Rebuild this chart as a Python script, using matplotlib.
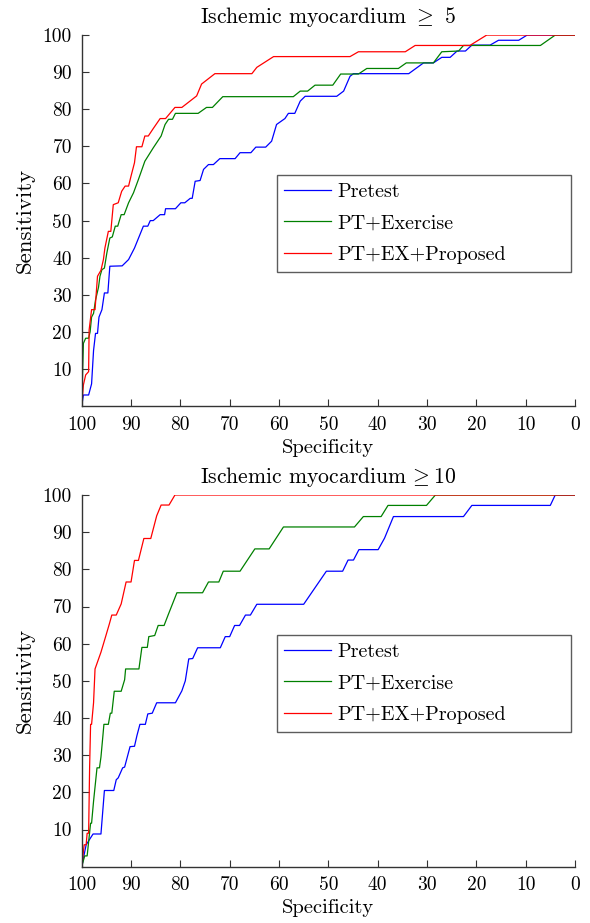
import matplotlib
matplotlib.use("Agg")
import matplotlib.pyplot as plt

plt.rcParams['font.family'] = ['cmr10', 'DejaVu Serif']
plt.rcParams['mathtext.fontset'] = 'cm'
plt.rcParams['axes.formatter.use_mathtext'] = True

labels = ["Pretest", "PT+Exercise", "PT+EX+Proposed"]
colors = ["#0000ff", "#008000", "#ff0000"]
titles = [r"Ischemic myocardium $\geq$ 5", r"Ischemic myocardium$\,\geq$10"]
xticks = [100, 90, 80, 70, 60, 50, 40, 30, 20, 10, 0]
yticks = [10, 20, 30, 40, 50, 60, 70, 80, 90, 100]

# ---- Panel 1: Ischemic myocardium >= 5 ----
p1_pre_spec = [100, 99.66, 98.6, 98, 97.6, 97.2, 96.8, 96.5, 95.9, 95.4, 94.7, 94.3, 91.8, 90.5, 89.3, 87.5,
               86.6, 86.1, 85.5, 84.1, 83.2, 83, 81, 79.9, 79.1, 78, 77.6, 77, 76, 75.3, 74.3, 73.3, 72,
               68.9, 67.9, 65.7, 64.7, 62.7, 61.5, 60.5, 58.8, 58.1, 56.8, 55.7, 54.7, 48.3, 46.9, 45.6,
               44.9, 33.7, 30.7, 28.7, 27, 25.3, 23.9, 22.2, 20.9, 17.2, 15.5, 11.4, 9.7, 0]
p1_pre_sens = [0, 3, 3, 6, 15, 19.6, 19.6, 24, 26, 30.5, 30.5, 37.7, 37.8, 39.5, 42.6, 48.5,
               48.5, 50, 50, 51.6, 51.6, 53.2, 53.2, 54.8, 54.8, 56, 56, 60.6, 60.8, 63.8, 65.1, 65.1, 66.7,
               66.7, 68.3, 68.3, 69.8, 69.8, 71.4, 75.9, 77.5, 78.9, 78.9, 82.2, 83.5, 83.5, 84.9, 88.9,
               89.6, 89.6, 92.5, 92.5, 94, 94, 95.7, 95.7, 97.3, 97.3, 98.6, 98.6, 100, 100]

p1_pt_spec = [100, 99.66, 99.2, 98.6, 98.3, 98, 97.6, 97.2, 96.6, 96.3, 95.9, 95.4, 94.9, 94.3, 93.8, 93.2,
              92.7, 92, 91.4, 90.5, 89.5, 88.5, 87.2, 85.5, 83.9, 83.1, 82.4, 81.6, 81, 76.4, 74.7, 73.5,
              71.4, 57.1, 55.7, 54.2, 52.7, 49.1, 47.5, 43.9, 42.2, 35.8, 34.2, 28.7, 27, 23.6, 22.6, 7, 4, 0]
p1_pt_sens = [0, 16.9, 18.3, 18.3, 20, 24, 25, 28.6, 32, 35, 36.8, 37.2, 41.3, 45.3, 45.6, 48.5,
              48.5, 51.6, 51.6, 54.8, 57.5, 61.1, 66, 69.6, 72.8, 75.9, 77.3, 77.3, 78.9, 78.9, 80.5, 80.5,
              83.4, 83.4, 84.9, 84.9, 86.5, 86.5, 89.5, 89.5, 91, 91, 92.5, 92.5, 95.5, 95.7, 97.2, 97.2, 100, 100]

p1_pr_spec = [100, 99.66, 99.2, 98.6, 98.5, 98, 97.3, 96.8, 96.1, 95.6, 95.3, 94.6, 94.1, 93.6, 92.6, 91.9,
              91.2, 90.5, 90, 89.3, 88.9, 87.8, 87.2, 86.5, 85.5, 84.1, 83, 81.1, 79.7, 76.7, 75.7, 73,
              65.5, 64.5, 61.1, 45.6, 43.9, 34.4, 32.4, 21.3, 17.9, 0]
p1_pr_sens = [0, 5.7, 8.4, 9.3, 20.5, 26, 26, 35, 36.6, 39.5, 42.6, 47.1, 47.1, 54.3, 54.8, 57.9,
              59.3, 59.3, 62, 65.6, 69.9, 69.9, 72.8, 72.8, 74.8, 77.5, 77.5, 80.5, 80.5, 83.6, 86.8, 89.6,
              89.6, 91.3, 94.2, 94.2, 95.5, 95.5, 97.2, 97.2, 100, 100]

# ---- Panel 2: Ischemic myocardium >= 10 ----
p2_pre_spec = [100, 99.1, 97.7, 96.1, 95.4, 93.5, 93, 92.6, 91.7, 91.3, 90.2, 89.3, 88.8, 88.2, 87.1, 86.6,
               85.7, 84.8, 81, 79.7, 79, 78.3, 77.5, 76.5, 71.9, 70.9, 70, 69, 68, 66.8, 65.8, 64.5, 55,
               50.4, 47.1, 46, 44.9, 43.8, 39.9, 38.6, 36.8, 22.6, 20.9, 5, 4, 0]
p2_pre_sens = [0, 5.9, 8.8, 8.8, 20.5, 20.5, 23.4, 23.9, 26.6, 26.8, 32.3, 32.4, 35.3, 38.3, 38.3, 41.1,
               41.3, 44.1, 44.1, 47.3, 50, 55.9, 56, 58.9, 58.9, 61.9, 61.9, 64.9, 64.9, 67.7, 67.7, 70.6, 70.6,
               79.5, 79.5, 82.5, 82.5, 85.3, 85.3, 88.4, 94.2, 94.2, 97.2, 97.2, 100, 100]

p2_pt_spec = [100, 99.4, 98.9, 98.2, 98, 97.6, 96.9, 96.4, 96.1, 95.7, 95.5, 94.6, 94.2, 93.9, 93.4, 92,
              91.3, 91.1, 88.4, 87.8, 86.7, 86.4, 85.2, 84.5, 83.3, 82.4, 80.7, 75.5, 74.3, 72.2, 71.3, 67.9,
              64.9, 62, 59.1, 44.7, 42.9, 39.3, 37.9, 30.1, 28.3, 0]
p2_pt_sens = [0, 2.9, 2.9, 11.7, 11.7, 17.6, 26.6, 26.6, 29.5, 35.3, 38.3, 38.3, 41.3, 41.3, 47.2, 47.2,
              50.3, 53.2, 53.2, 59, 59, 61.9, 62.2, 64.9, 64.9, 68, 73.7, 73.7, 76.6, 76.6, 79.5, 79.5,
              85.5, 85.5, 91.4, 91.4, 94.2, 94.2, 97.2, 97.2, 100, 100]

p2_pr_spec = [100, 99.5, 99.1, 98.9, 98.6, 98.4, 98.2, 98, 97.6, 97.3, 96.1, 95.2, 94.4, 93.9, 93, 92,
              91, 90, 89.3, 88.5, 87.4, 86, 84.8, 83.9, 82.3, 81.1, 0]
p2_pr_sens = [0, 5.9, 5.9, 9, 9, 26.6, 38.3, 38.3, 44.1, 53.2, 57.7, 61.7, 65.3, 67.7, 67.7, 70.7,
              76.6, 76.6, 82.4, 82.4, 88.3, 88.3, 94.4, 97.3, 97.3, 100, 100]

panels = [
    [(p1_pre_spec, p1_pre_sens), (p1_pt_spec, p1_pt_sens), (p1_pr_spec, p1_pr_sens)],
    [(p2_pre_spec, p2_pre_sens), (p2_pt_spec, p2_pt_sens), (p2_pr_spec, p2_pr_sens)],
]

fig = plt.figure(figsize=(5.9, 9.23), dpi=100)
axes_rects = [[0.1385, 0.560, 0.836, 0.402], [0.1385, 0.061, 0.836, 0.4027]]
fs = 14
spine_col = "#333333"

for rect, curves, title in zip(axes_rects, panels, titles):
    ax = fig.add_axes(rect)
    for (sx, sy), lab, col in zip(curves, labels, colors):
        ax.plot(sx, sy, color=col, lw=0.9, label=lab)
    ax.set_xlim(100, 0)
    ax.set_ylim(0, 100)
    ax.set_xticks(xticks)
    ax.set_yticks(yticks)
    ax.set_xticklabels([str(t) for t in xticks])
    ax.set_yticklabels([str(t) for t in yticks])
    for s in ["top", "right"]:
        ax.spines[s].set_visible(False)
    for s in ["left", "bottom"]:
        ax.spines[s].set_color(spine_col)
        ax.spines[s].set_linewidth(1.0)
    ax.tick_params(direction="in", length=5, width=0.8, color=spine_col, labelsize=fs)
    ax.tick_params(axis="x", pad=7)
    ax.tick_params(axis="y", pad=7)
    ax.set_xlabel("Specificity", fontsize=fs + 0.8, labelpad=3.5)
    ax.set_ylabel("Sensitivity", fontsize=16.5, labelpad=6)
    ax.set_title(title, fontsize=15.6, pad=8.5)
    leg = ax.legend(loc="upper left", bbox_to_anchor=(0.395, 0.623, 0.597, 0),
                    mode="expand", borderaxespad=0, fontsize=14.5, fancybox=False,
                    handlelength=2.3, labelspacing=0.67, borderpad=0.38, handletextpad=0.35)
    leg.get_frame().set_edgecolor("#333333")
    leg.get_frame().set_linewidth(1.0)

fig.savefig("out.png", dpi=100)
